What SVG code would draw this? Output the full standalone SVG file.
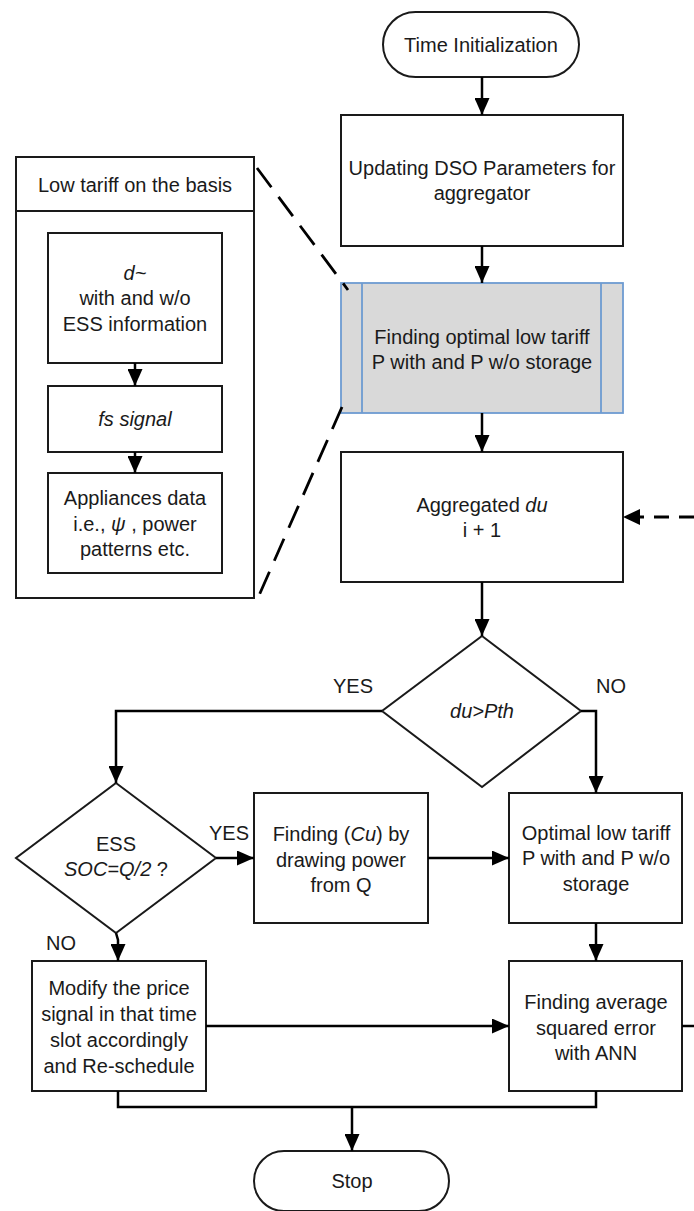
<svg xmlns="http://www.w3.org/2000/svg" width="694" height="1211" viewBox="0 0 694 1211">
<defs>
<style>
text{font-family:"Liberation Sans",Arial,sans-serif;font-size:20px;fill:#1a1a1a;text-anchor:middle}
.it{font-style:italic}
.box{fill:#fff;stroke:#1a1a1a;stroke-width:2}
.pre{fill:#d9d9d9;stroke:#6d9bd1;stroke-width:1.8}
.ln{fill:none;stroke:#000;stroke-width:2.5}
.dash{fill:none;stroke:#000;stroke-width:2.8;stroke-dasharray:24 12}
.fb{fill:none;stroke:#000;stroke-width:3;stroke-dasharray:15 10}
</style>
<marker id="ah" viewBox="0 0 17 15" refX="17" refY="7.5" markerWidth="17" markerHeight="15" markerUnits="userSpaceOnUse" orient="auto">
<path d="M0,0 L17,7.5 L0,15 z" fill="#000"/>
</marker>
</defs>
<rect width="694" height="1211" fill="#fff"/>

<g id="time-init">
<rect class="box" x="383" y="12" width="196" height="65" rx="32.5"/>
<text x="481" y="52">Time Initialization</text>
</g>

<g id="update-dso">
<rect class="box" x="341" y="115" width="282" height="131"/>
<text x="482" y="175">Updating DSO Parameters for</text>
<text x="482" y="200">aggregator</text>
</g>

<g id="finding-optimal">
<rect class="pre" x="341" y="283" width="282" height="130"/>
<line x1="362" y1="283" x2="362" y2="413" stroke="#6d9bd1" stroke-width="1.8"/>
<line x1="601" y1="283" x2="601" y2="413" stroke="#6d9bd1" stroke-width="1.8"/>
<text x="482" y="344">Finding optimal low tariff</text>
<text x="482" y="369">P with and P w/o storage</text>
</g>

<g id="aggregated">
<rect class="box" x="341" y="452" width="282" height="130"/>
<text x="482" y="512">Aggregated <tspan class="it">du</tspan></text>
<text x="482" y="537">i + 1</text>
</g>

<g id="decision-du">
<polygon class="box" points="482,636 581,711 482,787 382,711"/>
<text class="it" x="482" y="718">du&gt;Pth</text>
<text x="353" y="693">YES</text>
<text x="611" y="693">NO</text>
</g>

<g id="decision-ess">
<polygon class="box" points="116,783 216,858 116,933 16,858"/>
<text x="116" y="851">ESS</text>
<text x="116" y="876"><tspan class="it">SOC=Q/2</tspan> ?</text>
<text x="229" y="840">YES</text>
<text x="61" y="950">NO</text>
</g>

<g id="finding-cu">
<rect class="box" x="254" y="793" width="174" height="130"/>
<text x="341" y="841">Finding (<tspan class="it">Cu</tspan>) by</text>
<text x="341" y="867">drawing power</text>
<text x="341" y="892">from Q</text>
</g>

<g id="optimal-low">
<rect class="box" x="509" y="793" width="173" height="130"/>
<text x="596" y="840">Optimal low tariff</text>
<text x="596" y="865">P with and P w/o</text>
<text x="596" y="891">storage</text>
</g>

<g id="modify">
<rect class="box" x="32" y="961" width="174" height="130"/>
<text x="119" y="995">Modify the price</text>
<text x="119" y="1021">signal in that time</text>
<text x="119" y="1047">slot accordingly</text>
<text x="119" y="1073">and Re-schedule</text>
</g>

<g id="finding-average">
<rect class="box" x="509" y="961" width="173" height="130"/>
<text x="596" y="1009">Finding average</text>
<text x="596" y="1035">squared error</text>
<text x="596" y="1060">with ANN</text>
</g>

<g id="stop">
<rect class="box" x="254" y="1151" width="195" height="60" rx="30"/>
<text x="352" y="1188">Stop</text>
</g>

<g id="low-tariff-panel">
<rect class="box" x="16" y="157" width="238" height="441"/>
<line x1="16" y1="211" x2="254" y2="211" stroke="#1a1a1a" stroke-width="2"/>
<text x="135" y="192">Low tariff on the basis</text>
</g>

<g id="d-tilde">
<rect class="box" x="48" y="233" width="174" height="130"/>
<text class="it" x="135" y="280">d~</text>
<text x="135" y="305">with and w/o</text>
<text x="135" y="331">ESS information</text>
</g>

<g id="fs-signal">
<rect class="box" x="48" y="386" width="174" height="66"/>
<text class="it" x="135" y="426">fs signal</text>
</g>

<g id="appliances">
<rect class="box" x="48" y="473" width="174" height="100"/>
<text x="135" y="505">Appliances data</text>
<text x="135" y="531">i.e., <tspan class="it">ψ</tspan> , power</text>
<text x="135" y="556">patterns etc.</text>
</g>

<g id="connectors">
<line class="ln" x1="482" y1="77" x2="482" y2="115" marker-end="url(#ah)"/>
<line class="ln" x1="482" y1="246" x2="482" y2="283" marker-end="url(#ah)"/>
<line class="ln" x1="482" y1="413" x2="482" y2="452" marker-end="url(#ah)"/>
<line class="ln" x1="482" y1="582" x2="482" y2="636" marker-end="url(#ah)"/>
<polyline class="ln" points="382,711 116,711 116,783" marker-end="url(#ah)"/>
<polyline class="ln" points="581,711 596,711 596,793" marker-end="url(#ah)"/>
<line class="ln" x1="216" y1="858" x2="254" y2="858" marker-end="url(#ah)"/>
<line class="ln" x1="428" y1="858" x2="509" y2="858" marker-end="url(#ah)"/>
<polyline class="ln" points="116,933 118,940 118,961" marker-end="url(#ah)"/>
<line class="ln" x1="596" y1="923" x2="596" y2="961" marker-end="url(#ah)"/>
<line class="ln" x1="206" y1="1026" x2="509" y2="1026" marker-end="url(#ah)"/>
<line class="ln" x1="682" y1="1026" x2="694" y2="1026"/>
<polyline class="ln" points="118,1091 118,1107 596,1107 596,1091"/>
<line class="ln" x1="352" y1="1107" x2="352" y2="1151" marker-end="url(#ah)"/>
<line class="fb" x1="694" y1="517" x2="638" y2="517"/>
<path d="M623,517 L640,509 L640,525 z" fill="#000"/>
<line class="ln" x1="135" y1="363" x2="135" y2="386" marker-end="url(#ah)"/>
<line class="ln" x1="135" y1="452" x2="135" y2="473" marker-end="url(#ah)"/>
<line class="dash" x1="257" y1="168" x2="348" y2="290"/>
<line class="dash" x1="342" y1="407" x2="257" y2="600"/>
</g>
</svg>
